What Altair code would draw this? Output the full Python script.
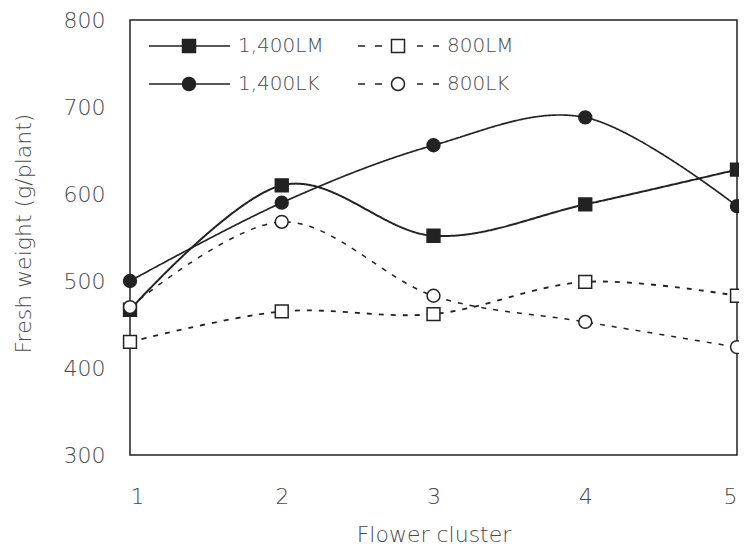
import altair as alt
import pandas as pd

# ---- data ----
clusters = [1, 2, 3, 4, 5]
series_names = ["1,400LM", "800LM", "1,400LK", "800LK"]
lm_1400 = [467, 610, 552, 588, 628]
lm_800 = [430, 465, 462, 499, 483]
lk_1400 = [500, 590, 656, 688, 586]
lk_800 = [470, 568, 483, 453, 424]
y_ticks = [300, 400, 500, 600, 700, 800]

values = {"1,400LM": lm_1400, "800LM": lm_800, "1,400LK": lk_1400, "800LK": lk_800}
rows = []
for s in series_names:
    for c, v in zip(clusters, values[s]):
        rows.append({"cluster": c, "weight": v, "series": s})
df = pd.DataFrame(rows)
legend_df = pd.DataFrame({"legend_series": series_names})

FONT = "DejaVu Sans"
TXT = "#4a4a4a"
INK = "#222222"

# legend glyphs: line + marker (units scaled by sqrt(size)/2 = 10px)
sq = "M-0.65,-0.65H0.65V0.65H-0.65Z"
ci = "M-0.65,0A0.65,0.65,0,1,0,0.65,0A0.65,0.65,0,1,0,-0.65,0Z"
solid = "M-4,0H-0.65M0.65,0H4.1"
dashed = "M-4,0H-3.3M-2.3,0H-1.6M1.9,0H2.5M3.5,0H4.1"
legend_paths = [solid + sq, dashed + sq, solid + ci, dashed + ci]

x_enc = alt.X("cluster:Q", title="Flower cluster",
              scale=alt.Scale(domain=[1, 5], nice=False),
              axis=alt.Axis(values=clusters, format="d", grid=False, domain=False,
                            ticks=False, tickSize=0, labelPadding=31,
                            labelFont=FONT, labelFontSize=22, labelColor=TXT,
                            labelFontWeight=300,
                            titleFont=FONT, titleFontSize=22, titleColor=TXT,
                            titleFontWeight=300, titleY=86,
                            titleBaseline="alphabetic"))
y_enc = alt.Y("weight:Q", title="Fresh weight (g/plant)",
              scale=alt.Scale(domain=[300, 800], nice=False),
              axis=alt.Axis(values=y_ticks, grid=False, domain=False,
                            ticks=False, tickSize=0, labelPadding=25,
                            labelFont=FONT, labelFontSize=22, labelColor=TXT,
                            labelFontWeight=300,
                            titleFont=FONT, titleFontSize=22, titleColor=TXT,
                            titleFontWeight=300, titleX=-107, titleY=213,
                            titleAngle=-90, titleAlign="center",
                            titleBaseline="middle"))

lines = alt.Chart(df).mark_line(interpolate="cardinal", color=INK).encode(
    x=x_enc, y=y_enc,
    detail="series:N",
    strokeDash=alt.StrokeDash("series:N", legend=None,
                              scale=alt.Scale(domain=series_names,
                                              range=[[1, 0], [5, 7], [1, 0], [5, 7]])),
    strokeWidth=alt.StrokeWidth("series:N", legend=None,
                                scale=alt.Scale(domain=series_names,
                                                range=[2, 1.5, 2, 1.5])),
)

points = alt.Chart(df).mark_point(filled=True, stroke=INK, strokeWidth=1.5,
                                  opacity=1, size=165).encode(
    x="cluster:Q", y="weight:Q",
    shape=alt.Shape("series:N", legend=None,
                    scale=alt.Scale(domain=series_names,
                                    range=["square", "square", "circle", "circle"])),
    fill=alt.Fill("series:N", legend=None,
                  scale=alt.Scale(domain=series_names,
                                  range=[INK, "white", INK, "white"])),
    order=alt.Order("idx:Q"),
).transform_window(idx="row_number()")

legend_layer = alt.Chart(legend_df).mark_point(
    filled=True, strokeWidth=1.5, opacity=1
).encode(
    shape=alt.Shape("legend_series:N",
                    scale=alt.Scale(domain=series_names, range=legend_paths),
                    legend=alt.Legend(title=None, orient="none", legendX=48, legendY=15,
                                      columns=2, direction="horizontal",
                                      symbolSize=400, labelOffset=38,
                                      labelFont=FONT, labelFontSize=20, labelColor=TXT,
                                      labelFontWeight=300,
                                      rowPadding=17, columnPadding=31, padding=0,
                                      symbolStrokeWidth=1.5, symbolStrokeColor=INK)),
    fill=alt.Fill("legend_series:N",
                  scale=alt.Scale(domain=series_names,
                                  range=[INK, "white", INK, "white"])),
    stroke=alt.Stroke("legend_series:N",
                      scale=alt.Scale(domain=series_names,
                                      range=[INK, INK, INK, INK])),
).transform_filter("false")

chart = alt.layer(lines, points, legend_layer).resolve_scale(
    shape="independent", fill="independent", stroke="independent"
).properties(
    width=607, height=435,
    autosize=alt.AutoSizeParams(type="none"),
    padding={"left": 122, "top": 12, "right": 2, "bottom": 91},
).configure_view(stroke=INK, strokeWidth=1.5)

chart.save("out.html", embed_options={"renderer": "svg", "actions": False})
